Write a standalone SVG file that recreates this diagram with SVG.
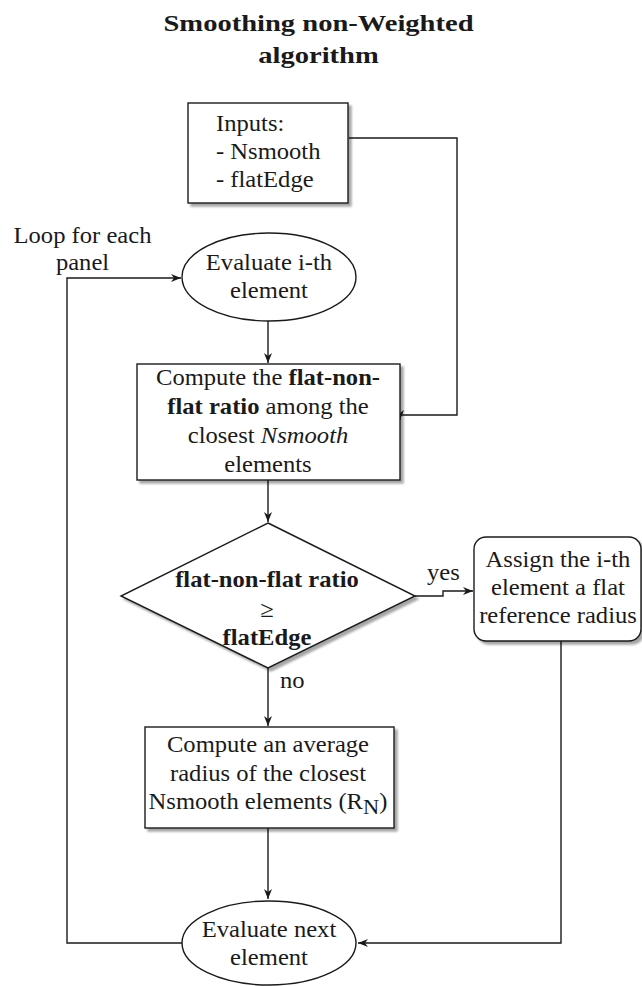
<svg xmlns="http://www.w3.org/2000/svg" width="642" height="986" viewBox="0 0 642 986" font-family="'Liberation Serif', 'Times New Roman', Times, serif">
  <style>
    text { font-family: 'Liberation Serif', 'Times New Roman', Times, serif; }
    .t { font-size: 23px; fill: #1a1a1a; }
    .c { text-anchor: middle; }
    .b { font-weight: bold; }
    .i { font-style: italic; }
    .title { font-size: 24px; font-weight: bold; fill: #1a1a1a; text-anchor: middle; }
    .shape { fill: #ffffff; stroke: #1a1a1a; stroke-width: 1.4; }
    .edge { fill: none; stroke: #1a1a1a; stroke-width: 1.4; }
  </style>
  <defs>
    <filter id="shadow" x="-10%" y="-10%" width="125%" height="125%">
      <feDropShadow dx="3" dy="3" stdDeviation="1.2" flood-color="#000000" flood-opacity="0.35"/>
    </filter>
    <marker id="arrow" viewBox="0 0 10 8" markerWidth="10" markerHeight="8" refX="10" refY="4" orient="auto" markerUnits="userSpaceOnUse">
      <path d="M0,0 L10,4 L0,8 L3,4 Z" fill="#1a1a1a"/>
    </marker>
  </defs>

  <rect width="642" height="986" fill="#ffffff"/>

  <!-- heading -->
  <g id="title" transform="translate(318.5 0) scale(1.19 1)">
    <text class="title" x="0" y="31">Smoothing non-Weighted</text>
    <text class="title" x="0" y="63">algorithm</text>
  </g>

  <!-- connectors -->
  <g id="connectors">
    <path class="edge" d="M349 138 H457 V415 H400 V420" marker-end="url(#arrow)"/>
    <path class="edge" d="M268 321 V363" marker-end="url(#arrow)"/>
    <path class="edge" d="M268 480 V522" marker-end="url(#arrow)"/>
    <path class="edge" d="M415 596 H443 V591 H473" marker-end="url(#arrow)"/>
    <path class="edge" d="M268 668 V726" marker-end="url(#arrow)"/>
    <path class="edge" d="M268 828 V899" marker-end="url(#arrow)"/>
    <path class="edge" d="M182 943 H67 V278 H181" marker-end="url(#arrow)"/>
    <path class="edge" d="M561 641 V943 H358" marker-end="url(#arrow)"/>
    <g transform="translate(427 0) scale(1.07 1)">
      <text class="t" x="0" y="580">yes</text>
    </g>
    <g transform="translate(280 0) scale(1.07 1)">
      <text class="t" x="0" y="688">no</text>
    </g>
    <g transform="translate(82.5 0) scale(1.07 1)">
      <text class="t c" x="0" y="243">Loop for each</text>
      <text class="t c" x="0" y="270">panel</text>
    </g>
  </g>

  <!-- inputs -->
  <g id="inputs">
    <rect class="shape" x="188" y="103" width="160" height="100" filter="url(#shadow)"/>
    <g transform="translate(216 0) scale(1.07 1)">
      <text class="t" x="0" y="131">Inputs:</text>
      <text class="t" x="0" y="159">- Nsmooth</text>
      <text class="t" x="0" y="187">- flatEdge</text>
    </g>
  </g>

  <!-- loop start -->
  <g id="evaluate-ith">
    <ellipse class="shape" cx="269" cy="277" rx="87" ry="44"/>
    <g transform="translate(269 0) scale(1.07 1)">
      <text class="t c" x="0" y="270">Evaluate i-th</text>
      <text class="t c" x="0" y="298">element</text>
    </g>
  </g>

  <!-- ratio computation -->
  <g id="compute-ratio">
    <rect class="shape" x="137" y="364" width="263" height="116" filter="url(#shadow)"/>
    <g transform="translate(268 0) scale(1.07 1)">
      <text class="t c" x="0" y="385">Compute the <tspan class="b">flat-non-</tspan></text>
      <text class="t c" x="0" y="414"><tspan class="b">flat ratio</tspan> among the</text>
      <text class="t c" x="0" y="443">closest <tspan class="i">Nsmooth</tspan></text>
      <text class="t c" x="0" y="472">elements</text>
    </g>
  </g>

  <!-- decision -->
  <g id="decision">
    <polygon class="shape" points="268,523 415,596 268,668 121,596" filter="url(#shadow)"/>
    <g transform="translate(267 0) scale(1.07 1)">
      <text class="t c b" x="0" y="587">flat-non-flat ratio</text>
      <text class="t c" x="0" y="617">≥</text>
      <text class="t c b" x="0" y="645">flatEdge</text>
    </g>
  </g>

  <!-- flat branch -->
  <g id="assign-flat">
    <rect class="shape" x="474" y="537" width="167" height="104" rx="12" ry="12" filter="url(#shadow)"/>
    <g transform="translate(558 0) scale(1.07 1)">
      <text class="t c" x="0" y="567">Assign the i-th</text>
      <text class="t c" x="0" y="595">element a flat</text>
      <text class="t c" x="0" y="623">reference radius</text>
    </g>
  </g>

  <!-- averaging branch -->
  <g id="compute-average">
    <rect class="shape" x="145" y="727" width="249" height="101" filter="url(#shadow)"/>
    <g transform="translate(268 0) scale(1.07 1)">
      <text class="t c" x="0" y="752">Compute an average</text>
      <text class="t c" x="0" y="781">radius of the closest</text>
      <text class="t c" x="0" y="809">Nsmooth elements (R<tspan dy="5" font-size="21">N</tspan><tspan dy="-5">)</tspan></text>
    </g>
  </g>

  <!-- loop end -->
  <g id="evaluate-next">
    <ellipse class="shape" cx="269" cy="943" rx="87" ry="42"/>
    <g transform="translate(269 0) scale(1.07 1)">
      <text class="t c" x="0" y="937">Evaluate next</text>
      <text class="t c" x="0" y="965">element</text>
    </g>
  </g>
</svg>
